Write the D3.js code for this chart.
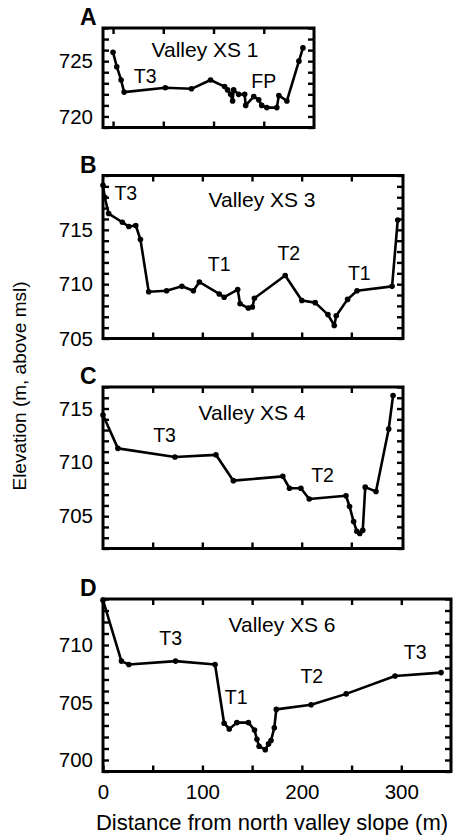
<!DOCTYPE html>
<html>
<head>
<meta charset="utf-8">
<script src="https://cdn.jsdelivr.net/npm/d3@7"></script>
<style>
  body { margin: 0; background: #fff; }
  text { font-family: "Liberation Sans", Arial, sans-serif; fill: #000; }
</style>
</head>
<body>
<div id="chart"></div>
<script>
// distance (m) and elevation (m) for each cross section
var distA = [0, 3.7, 8, 11, 52, 78, 97, 111, 114, 117, 119, 120, 125, 131, 132, 140, 145, 148, 153, 163, 165, 173, 185, 189];
var elevA = [725.8, 724.5, 723.3, 722.2, 722.6, 722.5, 723.3, 722.7, 722.4, 722.0, 721.4, 722.4, 722.0, 722.0, 721.0, 721.8, 721.5, 721.0, 720.8, 720.8, 721.9, 721.4, 725.0, 726.2];

var distB = [0, 1.7, 5.7, 19.5, 26, 33, 37.7, 46, 64, 79.4, 91, 97, 117, 122, 135.6, 138, 146.3, 150.4, 152.4, 183.4, 200.2, 213.6, 226.4, 232.8, 234.8, 246.2, 255.7, 291, 296.7];
var elevB = [719.1, 718.0, 716.5, 715.7, 715.3, 715.4, 714.1, 709.3, 709.4, 709.8, 709.4, 710.2, 709.1, 708.8, 709.5, 708.2, 707.8, 707.9, 708.7, 710.8, 708.5, 708.3, 707.2, 706.2, 707.1, 708.6, 709.4, 709.8, 715.9];

var distC = [0, 15, 72.4, 113.7, 131.2, 181, 187.7, 199.2, 207.6, 244.6, 248.2, 252.3, 255.5, 258.5, 261.5, 264, 274.8, 287.6, 292];
var elevC = [714.4, 711.3, 710.5, 710.7, 708.3, 708.7, 707.6, 707.6, 706.6, 706.9, 705.9, 704.5, 703.6, 703.4, 703.7, 707.7, 707.3, 713.1, 716.2];

var distD = [0, 18.5, 26, 73, 112.7, 121.8, 127, 134.6, 146.3, 152.4, 154.8, 157, 163.2, 166.5, 169, 172.3, 174.3, 209.3, 244.6, 293.7, 340];
var elevD = [713.9, 708.6, 708.3, 708.6, 708.3, 703.2, 702.7, 703.25, 703.25, 702.6, 701.8, 701.2, 700.9, 701.4, 701.7, 702.8, 704.4, 704.8, 705.75, 707.3, 707.6];

var panelLetters = ["A", "B", "C", "D"];
var panelTitles = ["Valley XS 1", "Valley XS 3", "Valley XS 4", "Valley XS 6"];
var xDomains = [[-10, 200], [0, 302], [0, 302], [0, 350]];
var yDomains = [[719, 728], [705, 720], [702, 717], [699, 714]];
var xTickValues = [0, 50, 100, 150, 200, 250, 300];
var xTickLabels = [0, 100, 200, 300];

// terrace labels: [panel, text, distance, elevation]
var terraceLabels = [
    [0, "T3", 32, 723.0], [0, "FP", 150, 722.6],
    [1, "T3", 23, 717.7], [1, "T1", 117, 711.2], [1, "T2", 187, 712.2], [1, "T1", 258, 710.4],
    [2, "T3", 62, 711.9], [2, "T2", 221, 708.2],
    [3, "T3", 68, 710.0], [3, "T1", 134, 704.9], [3, "T2", 210, 706.7], [3, "T3", 314, 708.8]
];

var width = 455, height = 840;

// pixel boxes of the four frames
var boxes = [
    { left: 103, right: 314, top: 28, bottom: 127.5 },
    { left: 103, right: 403, top: 175.5, bottom: 338.5 },
    { left: 103, right: 403, top: 387, bottom: 548.5 },
    { left: 103, right: 451, top: 599, bottom: 771.5 }
];

var dists = [distA, distB, distC, distD];
var elevs = [elevA, elevB, elevC, elevD];

var svg = d3.select("#chart")
    .append("svg")
    .attr("width", width)
    .attr("height", height);

boxes.forEach(function (b, i) {
    var x = d3.scaleLinear().domain(xDomains[i]).range([b.left, b.right]);
    var y = d3.scaleLinear().domain(yDomains[i]).range([b.bottom, b.top]);

    var yTop = yDomains[i][1];
    var yTicks = d3.range(Math.ceil(yDomains[i][0]), yTop + 1);
    var xTicks = xTickValues.filter(function (v) { return v > xDomains[i][0] && v < xDomains[i][1] - 3; });

    var g = svg.append("g");

    // left axis with labels every 5 m (none on the top edge)
    g.append("g")
        .attr("transform", "translate(" + b.left + ",0)")
        .call(d3.axisLeft(y).tickValues(yTicks).tickSize(-6).tickPadding(10)
            .tickFormat(function (d) { return d % 5 === 0 && d !== yTop ? d : ""; }));

    // right axis, ticks only
    g.append("g")
        .attr("transform", "translate(" + b.right + ",0)")
        .call(d3.axisRight(y).tickValues(yTicks).tickSize(-6).tickFormat(""));

    // top axis
    g.append("g")
        .attr("transform", "translate(0," + b.top + ")")
        .call(d3.axisTop(x).tickValues(xTicks).tickSize(-6).tickFormat(""));

    // bottom axis, labels only on the last panel
    var bottom = d3.axisBottom(x).tickValues(xTicks).tickSize(-6);
    if (i === 3) {
        bottom.tickValues([0].concat(xTicks)).tickPadding(13)
            .tickFormat(function (d) { return xTickLabels.indexOf(d) >= 0 ? d : ""; });
    } else {
        bottom.tickFormat("");
    }
    g.append("g")
        .attr("transform", "translate(0," + b.bottom + ")")
        .call(bottom);

    g.selectAll(".domain").remove();
    g.selectAll(".tick line").attr("stroke", "#000").attr("stroke-width", 2.4);
    g.selectAll(".tick text").attr("font-size", 20.5).attr("font-family", "Liberation Sans, Arial, sans-serif");

    // frame
    g.append("rect")
        .attr("x", b.left)
        .attr("y", b.top)
        .attr("width", b.right - b.left)
        .attr("height", b.bottom - b.top)
        .attr("fill", "none")
        .attr("stroke", "#000")
        .attr("stroke-width", 3);

    var pts = dists[i].map(function (d, k) { return [d, elevs[i][k]]; });

    var line = d3.line()
        .x(function (d) { return x(d[0]); })
        .y(function (d) { return y(d[1]); });

    g.append("path")
        .datum(pts)
        .attr("d", line)
        .attr("fill", "none")
        .attr("stroke", "#000")
        .attr("stroke-width", 2.6)
        .attr("stroke-linejoin", "round");

    g.selectAll(".pt")
        .data(pts)
        .enter()
        .append("circle")
        .attr("class", "pt")
        .attr("cx", function (d) { return x(d[0]); })
        .attr("cy", function (d) { return y(d[1]); })
        .attr("r", 2.8)
        .attr("fill", "#000");

    // panel letter
    g.append("text")
        .attr("x", 80)
        .attr("y", b.top - 3)
        .attr("font-size", 23)
        .attr("font-weight", "bold")
        .text(panelLetters[i]);

    // section title
    var titleX = [205, 262, 252, 282][i];
    var titleY = [56.5, 206.5, 420, 631.5][i];
    g.append("text")
        .attr("x", titleX)
        .attr("y", titleY)
        .attr("text-anchor", "middle")
        .attr("font-size", 21)
        .text(panelTitles[i]);

    terraceLabels.filter(function (t) { return t[0] === i; }).forEach(function (t) {
        g.append("text")
            .attr("x", x(t[2]))
            .attr("y", y(t[3]))
            .attr("text-anchor", "middle")
            .attr("font-size", 19.5)
            .text(t[1]);
    });
});

// axis titles
svg.append("text")
    .attr("x", 272)
    .attr("y", 830)
    .attr("text-anchor", "middle")
    .attr("font-size", 22)
    .text("Distance from north valley slope (m)");

svg.append("text")
    .attr("transform", "translate(26,386) rotate(-90)")
    .attr("text-anchor", "middle")
    .attr("font-size", 19)
    .text("Elevation (m, above msl)");
</script>
</body>
</html>
